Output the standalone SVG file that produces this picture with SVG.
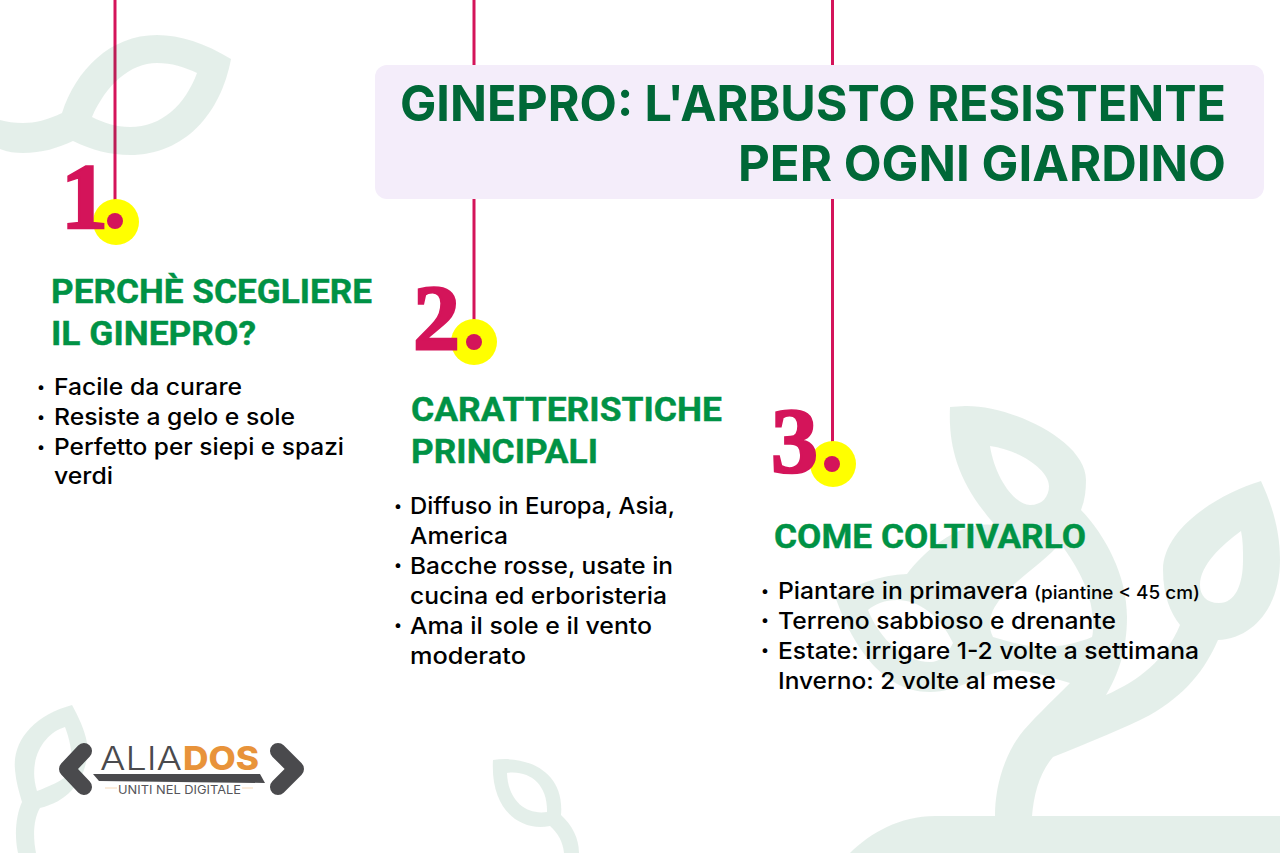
<svg xmlns="http://www.w3.org/2000/svg" width="1280" height="853" viewBox="0 0 1280 853">
<style>
.leaf{fill:#00683a;fill-opacity:.105;fill-rule:evenodd}
.wire{stroke:#d4145a;stroke-width:3;fill:none}
.halo{fill:#ffff00}.dot{fill:#d4145a}
.num{font-family:"Liberation Serif",serif;font-weight:700;font-size:94px;fill:#d4145a;stroke:#d4145a;stroke-width:2.5}
.head{font-family:Roboto,"Liberation Sans",sans-serif;font-weight:700;font-size:34px;fill:#009245;stroke:#009245;stroke-width:.4}
.body{font-family:Inter,"Liberation Sans",sans-serif;font-weight:500;font-size:23px;fill:#000}
.small{font-size:18px}
.bul{font-family:Inter,"Liberation Sans",sans-serif;font-size:15px;fill:#000;text-anchor:middle}
.title{font-family:Inter,"Liberation Sans",sans-serif;font-weight:700;font-size:50px;fill:#006837}
.chev{fill:none;stroke:#4a4a4d;stroke-width:16;stroke-linecap:round;stroke-linejoin:round}
</style>
<rect width="1280" height="853" fill="#fff"/>
<g id="connectors">
<path class="wire" d="M115 0V200"/>
<path class="wire" d="M474 0V322"/>
<path class="wire" d="M832.500 0V444"/>
</g>
<g id="decor">
<path class="leaf" d="M231 59C205 43 180 35 157 35C110 35 76 70 62 113C47 120 35 123 23 123C14 123 7 122 0 120V149C8 152 15 153 23 153C42 153 58 148 73 141C92 150 110 155 130 155C185 155 221 113 231 59ZM92 117C106 85 130 63 157 63C172 63 184 67 197 73C185 105 162 127 130 127C116 127 104 123 92 117Z"/>
<path class="leaf" d="M72 705C35 715 12 740 15 770C16 782 19 792 22 802C16 815 14 835 18 853H36C33 838 33 820 40 808C75 800 90 770 87 743C85 730 78 716 72 705ZM65 727C45 733 27 758 37 791C48 787 62 781 72 772C73 755 70 740 65 727Z"/>
<path class="leaf" d="M493 760C525 755 565 770 561 815C572 825 579 838 579 853H564C563 842 558 833 550 826C520 832 490 810 493 760ZM507 773C530 770 548 785 547 812C525 815 508 800 507 773Z"/>
<path class="leaf" d="M950 407C948 450 960 485 995 525C960 520 925 550 907 574C880 575 855 585 835 596C850 640 880 692 930 692C958 692 985 672 1010 670C1030 670 1050 677 1070 683C1050 703 1030 722 1020 735C1002 760 995 790 995 816H935C900 816 870 833 850 853H1280V816H1032C1034 793 1040 772 1053 757C1090 742 1125 728 1150 715C1185 695 1205 670 1218 640C1255 638 1280 605 1280 560C1280 530 1272 505 1261 481C1215 495 1163 530 1163 570C1163 595 1170 612 1180 625C1165 660 1140 680 1106 695C1118 675 1127 650 1127 617C1127 575 1105 535 1081 510C1085 500 1086 490 1086 480C1086 440 1010 405 965 406ZM1241 531C1243 540 1243 550 1243 560C1243 585 1235 603 1219 603C1206 603 1200 595 1200 585C1200 565 1222 545 1241 531ZM990 446C995 478 1015 505 1030 505C1042 505 1049 497 1049 486C1049 470 1020 450 990 446ZM1060 543C1080 570 1093 595 1093 625C1093 630 1093 633 1092 637C1078 643 1060 647 1043 647C1025 647 1008 641 993 637C975 600 1040 570 1060 543ZM953 643C940 615 918 600 897 600C885 600 875 604 868 610C880 640 905 662 930 662C940 662 947 655 953 643Z"/>
</g>
<g id="title-box">
<rect x="375" y="65" width="889" height="134" rx="12" fill="#f4edfa"/>
<text class="title" x="400" y="121" textLength="826" lengthAdjust="spacingAndGlyphs">GINEPRO: L'ARBUSTO RESISTENTE</text>
<text class="title" x="738" y="181" textLength="488" lengthAdjust="spacingAndGlyphs">PER OGNI GIARDINO</text>
</g>
<g id="node-1">
<circle class="halo" cx="116" cy="222" r="23"/>
<circle class="dot" cx="115" cy="221" r="8"/>
<text class="num" x="61" y="228">1</text>
<text class="head" x="51" y="303" textLength="321" lengthAdjust="spacingAndGlyphs">PERCHÈ SCEGLIERE</text>
<text class="head" x="51" y="345" textLength="205" lengthAdjust="spacingAndGlyphs">IL GINEPRO?</text>
<text class="bul" x="41" y="392">•</text><text class="body" x="54" y="395" textLength="188" lengthAdjust="spacingAndGlyphs">Facile da curare</text>
<text class="bul" x="41" y="422">•</text><text class="body" x="54" y="425" textLength="241" lengthAdjust="spacingAndGlyphs">Resiste a gelo e sole</text>
<text class="bul" x="41" y="452">•</text><text class="body" x="54" y="455" textLength="290" lengthAdjust="spacingAndGlyphs">Perfetto per siepi e spazi</text>
<text class="body" x="54" y="484" textLength="59" lengthAdjust="spacingAndGlyphs">verdi</text>
</g>
<g id="node-2">
<circle class="halo" cx="474" cy="342" r="23"/>
<circle class="dot" cx="474" cy="342" r="8"/>
<text class="num" x="413" y="349">2</text>
<text class="head" x="411" y="421" textLength="311" lengthAdjust="spacingAndGlyphs">CARATTERISTICHE</text>
<text class="head" x="411" y="463" textLength="187" lengthAdjust="spacingAndGlyphs">PRINCIPALI</text>
<text class="bul" x="398" y="511">•</text><text class="body" x="410" y="514" textLength="265" lengthAdjust="spacingAndGlyphs">Diffuso in Europa, Asia,</text>
<text class="body" x="410" y="544" textLength="98" lengthAdjust="spacingAndGlyphs">America</text>
<text class="bul" x="398" y="570">•</text><text class="body" x="410" y="574" textLength="263" lengthAdjust="spacingAndGlyphs">Bacche rosse, usate in</text>
<text class="body" x="410" y="604" textLength="257" lengthAdjust="spacingAndGlyphs">cucina ed erboristeria</text>
<text class="bul" x="398" y="630">•</text><text class="body" x="410" y="634" textLength="242" lengthAdjust="spacingAndGlyphs">Ama il sole e il vento</text>
<text class="body" x="410" y="664" textLength="116" lengthAdjust="spacingAndGlyphs">moderato</text>
</g>
<g id="node-3">
<circle class="halo" cx="833" cy="464" r="23"/>
<circle class="dot" cx="832" cy="464" r="8"/>
<text class="num" x="771" y="472">3</text>
<text class="head" x="774" y="548" textLength="312" lengthAdjust="spacingAndGlyphs">COME COLTIVARLO</text>
<text class="bul" x="765" y="596">•</text><text class="body" x="778" y="599" textLength="250" lengthAdjust="spacingAndGlyphs">Piantare in primavera</text>
<text class="body small" x="1034" y="599" textLength="166" lengthAdjust="spacingAndGlyphs">(piantine &lt; 45 cm)</text>
<text class="bul" x="765" y="625">•</text><text class="body" x="778" y="629" textLength="338" lengthAdjust="spacingAndGlyphs">Terreno sabbioso e drenante</text>
<text class="bul" x="765" y="655">•</text><text class="body" x="778" y="659" textLength="421" lengthAdjust="spacingAndGlyphs">Estate: irrigare 1-2 volte a settimana</text>
<text class="body" x="778" y="689" textLength="278" lengthAdjust="spacingAndGlyphs">Inverno: 2 volte al mese</text>
</g>
<g id="logo">
<path class="chev" d="M84 751L67 769L84 787"/>
<path class="chev" d="M278 751L296 769L278 787"/>
<text x="100" y="770" font-family="Inter,'Liberation Sans',sans-serif" font-weight="300" font-size="32" fill="#4a4a4d" textLength="82" lengthAdjust="spacingAndGlyphs">ALIA</text>
<text x="183" y="770" font-family="Inter,'Liberation Sans',sans-serif" font-weight="800" font-size="32" fill="#e8933a" textLength="76" lengthAdjust="spacingAndGlyphs">DOS</text>
<path d="M93 774H260L265 783L99 781Z" fill="#4a4a4d"/>
<path d="M105 788H117M242 788H253" stroke="#f7d9b8" stroke-width="1" fill="none"/>
<text x="118" y="794" font-family="Inter,'Liberation Sans',sans-serif" font-size="12" fill="#55555a" textLength="123" lengthAdjust="spacingAndGlyphs">UNITI NEL DIGITALE</text>
</g>
</svg>
